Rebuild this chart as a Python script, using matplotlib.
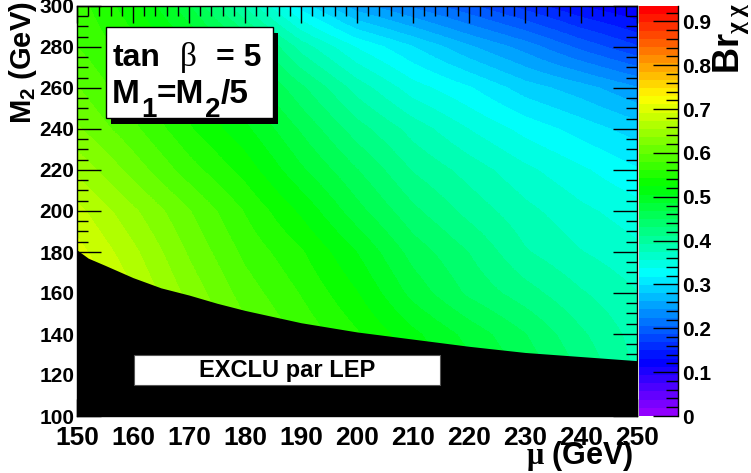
import colorsys
import numpy as np
import matplotlib
matplotlib.use('Agg')
import matplotlib.pyplot as plt
from matplotlib.colors import ListedColormap
from matplotlib.patches import Rectangle
from matplotlib.ticker import MultipleLocator

plt.rcParams['font.family'] = ['Liberation Sans Narrow', 'Liberation Sans', 'DejaVu Sans']
plt.rcParams['font.weight'] = 'bold'
plt.rcParams['mathtext.fontset'] = 'custom'
plt.rcParams['mathtext.rm'] = 'Liberation Serif'
plt.rcParams['mathtext.it'] = 'Liberation Serif:italic'
plt.rcParams['mathtext.bf'] = 'Liberation Sans:bold'
plt.rcParams['mathtext.sf'] = 'Liberation Sans'

# grid: mu (GeV) columns, M2 (GeV) rows
mu = [150, 160, 170, 180, 190, 200, 210, 220, 230, 240, 250]
m2 = [100, 120, 140, 160, 180, 200, 220, 240, 260, 280, 300]
br = [
    [0.75, 0.71, 0.67, 0.635, 0.60, 0.575, 0.54, 0.51, 0.48, 0.445, 0.395],
    [0.74, 0.70, 0.66, 0.62, 0.59, 0.56, 0.525, 0.495, 0.465, 0.43, 0.39],
    [0.73, 0.69, 0.645, 0.605, 0.575, 0.545, 0.51, 0.48, 0.45, 0.415, 0.385],
    [0.72, 0.675, 0.63, 0.59, 0.56, 0.525, 0.48, 0.445, 0.42, 0.395, 0.375],
    [0.70, 0.66, 0.615, 0.575, 0.545, 0.505, 0.46, 0.43, 0.395, 0.375, 0.36],
    [0.68, 0.64, 0.60, 0.56, 0.52, 0.475, 0.435, 0.405, 0.38, 0.36, 0.345],
    [0.65, 0.61, 0.57, 0.535, 0.49, 0.45, 0.41, 0.385, 0.36, 0.34, 0.32],
    [0.62, 0.585, 0.545, 0.51, 0.465, 0.42, 0.385, 0.355, 0.33, 0.31, 0.29],
    [0.60, 0.565, 0.53, 0.485, 0.435, 0.385, 0.345, 0.32, 0.29, 0.27, 0.245],
    [0.58, 0.55, 0.51, 0.455, 0.385, 0.335, 0.30, 0.265, 0.235, 0.20, 0.17],
    [0.57, 0.53, 0.47, 0.39, 0.31, 0.25, 0.22, 0.19, 0.16, 0.13, 0.11],
]
br_max = 0.935

# LEP excluded region (upper edge)
mu_lep = [150, 152, 155, 160, 165, 170, 175, 180, 190, 200, 210, 220, 230, 240, 250]
m2_lep = [181, 177, 173.5, 167.5, 162.5, 159, 155, 151.5, 145.5, 141, 137.5, 134, 131, 129, 127]

cbar_ticks = [0, 0.1, 0.2, 0.3, 0.4, 0.5, 0.6, 0.7, 0.8, 0.9]
cbar_labels = ['0', '0.1', '0.2', '0.3', '0.4', '0.5', '0.6', '0.7', '0.8', '0.9']

# ROOT "pretty" palette, violet -> red, 50 colours
cols = [colorsys.hls_to_rgb((280 - (i + 1) * 5.6) / 360.0, 0.5, 1.0) for i in range(50)]
cmap = ListedColormap(cols)

fig = plt.figure(figsize=(7.51, 4.73), dpi=100)
W, H = 751.0, 473.0


def px(x, y):
    return x / W, 1 - y / H


ax = fig.add_axes([77 / W, 1 - 416 / H, 560 / W, 410 / H])
cax = fig.add_axes([639 / W, 1 - 416 / H, 39 / W, 410 / H])

im = ax.imshow(np.array(br), origin='lower', aspect='auto', extent=[145, 255, 90, 310],
               interpolation='bilinear', interpolation_stage='data',
               cmap=cmap, vmin=0, vmax=br_max)
ax.fill_between(mu_lep, 100, m2_lep, color='black', lw=0, zorder=2)
ax.set_xlim(150, 250)
ax.set_ylim(100, 300)

ax.xaxis.set_major_locator(MultipleLocator(10))
ax.xaxis.set_minor_locator(MultipleLocator(2))
ax.yaxis.set_major_locator(MultipleLocator(20))
ax.yaxis.set_minor_locator(MultipleLocator(5))
ax.tick_params(axis='both', which='both', direction='in', top=True, right=True, width=1)
ax.tick_params(axis='x', which='major', length=12, labelsize=19, pad=7)
ax.tick_params(axis='x', which='minor', length=7)
ax.tick_params(axis='y', which='major', length=17, labelsize=15, pad=2)
ax.tick_params(axis='y', which='minor', length=8)
for s in ax.spines.values():
    s.set_linewidth(1)

# tan beta box (shadow + white pave)
ax.add_patch(Rectangle((156.1, 242.5), 29.8, 44.4, facecolor='black', lw=0, zorder=4))
ax.add_patch(Rectangle((155.2, 245.4), 29.8, 44.4, facecolor='white', edgecolor='black', lw=1, zorder=5))
sans = dict(fontsize=23, fontweight='bold', family='Liberation Sans', va='baseline', ha='left', zorder=6)
big = dict(fontsize=24, fontweight='bold', family='Liberation Sans', va='baseline', ha='left', zorder=6)
sub = dict(fontsize=20, fontweight='bold', family='Liberation Sans', va='baseline', ha='left', zorder=6)
fig.text(*px(113, 66), 'tan', **sans)
fig.text(*px(180, 66), '\u03b2', fontsize=24, family='Liberation Serif', fontweight='normal',
         va='baseline', ha='left', zorder=6)
fig.text(*px(216, 66), '= 5', **sans)
fig.text(*px(112, 103), 'M', **big)
fig.text(*px(141, 117), '1', **sub)
fig.text(*px(157, 103), '=M', **big)
fig.text(*px(205, 117), '2', **sub)
fig.text(*px(221, 103), '/5', **big)

# LEP box
ax.add_patch(Rectangle((160.2, 115.1), 54.6, 14.7, facecolor='white', edgecolor='#555555', lw=0.8, zorder=5))
ax.text(187.5, 122.4, 'EXCLU par LEP', fontsize=17, fontweight='bold',
        family='Liberation Sans', ha='center', va='center', zorder=6)

# axis titles
fig.text(*px(634, 456), r'$\mathrm{\mu}$ (GeV)', fontsize=22, fontweight='bold',
         ha='right', va='center')
fig.text(*px(23, 1), r'M$_\mathbf{2}$ (GeV)', fontsize=21, fontweight='bold',
         rotation=90, ha='center', va='top')

# colour bar
cb = fig.colorbar(im, cax=cax)
cb.outline.set_visible(False)
cb.set_ticks(cbar_ticks)
cb.set_ticklabels(cbar_labels)
cax.yaxis.set_minor_locator(MultipleLocator(0.02))
cax.tick_params(axis='y', which='both', direction='in', right=True, left=False, width=1, pad=3)
cax.tick_params(axis='y', which='major', length=18, labelsize=15)
cax.tick_params(axis='y', which='minor', length=9)
cax.plot([1, 1], [0, 1], color='black', lw=1, transform=cax.transAxes, clip_on=False)
fig.text(*px(731, 3), r'Br$_{\mathrm{\chi\;\chi}}$', fontsize=26, fontweight='bold',
         family='Liberation Sans', rotation=90, ha='center', va='top')

fig.savefig('out.png', dpi=100)
